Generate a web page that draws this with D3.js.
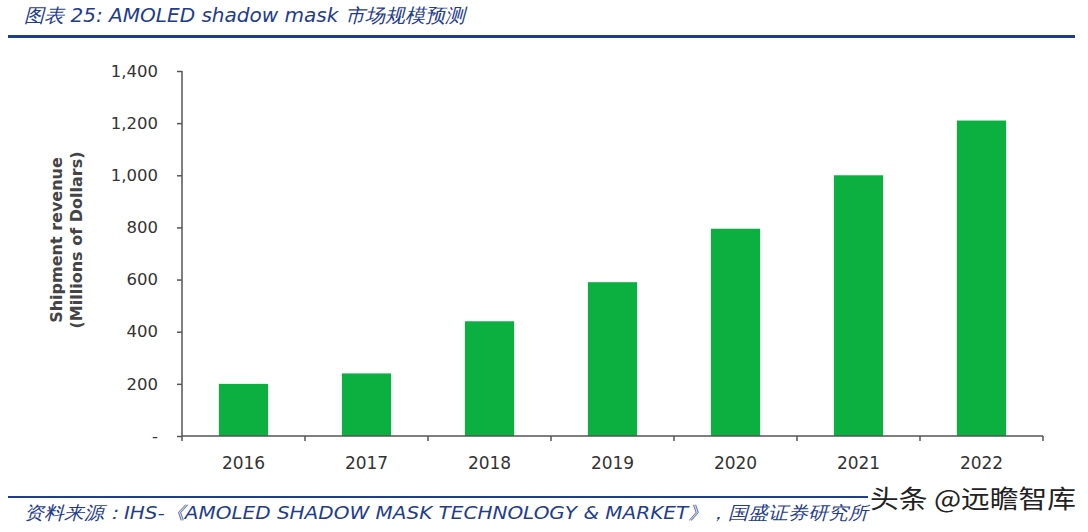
<!DOCTYPE html>
<html><head><meta charset="utf-8">
<script src="https://cdn.jsdelivr.net/npm/d3@7/dist/d3.min.js"></script>
<style>body{margin:0;background:#fff}svg{display:block}</style>
</head><body><svg id="c" width="1088" height="532"></svg>
<script>
const categories = ["2016","2017","2018","2019","2020","2021","2022"];
const revenue = [200, 240, 440, 590, 795, 1000, 1210];
const yTicks = [0, 200, 400, 600, 800, 1000, 1200, 1400];
const titleText = "图表 25:  AMOLED shadow mask 市场规模预测";
const sourceText = "资料来源：IHS-《AMOLED SHADOW MASK TECHNOLOGY & MARKET》，国盛证券研究所";
const watermark = "头条 @远瞻智库";
const yLabel = ["Shipment revenue", "(Millions of Dollars)"];

(function(){
const svg = d3.select("#c");
const mL = 182, mR = 1043, mT = 71, mB = 436;
const x = d3.scaleBand().domain(categories).range([mL, mR]).paddingInner(0.6).paddingOuter(0.3);
const xb = d3.scaleBand().domain(categories).range([mL, mR]);
const y = d3.scaleLinear().domain([0, 1400]).range([mB, mT]);
const font = "Tahoma, 'DejaVu Sans', sans-serif";

svg.append("text").attr("x", 24).attr("y", 22).attr("fill", "#1f3d8c")
  .attr("font-family", "Verdana, 'DejaVu Sans', sans-serif").attr("font-style", "italic")
  .attr("font-size", 19).attr("textLength", 441).attr("lengthAdjust", "spacingAndGlyphs").text(titleText);
svg.append("rect").attr("x", 8).attr("y", 35).attr("width", 1067).attr("height", 3).attr("fill", "#1f3d8c");

svg.selectAll("rect.bar").data(revenue).join("rect").attr("class","bar")
  .attr("x", (d,i) => x(categories[i])).attr("width", x.bandwidth())
  .attr("y", d => y(d)).attr("height", d => y(0) - y(d)).attr("fill", "#0bb040");

const ya = svg.append("g").attr("transform", `translate(${mL},0)`)
  .call(d3.axisLeft(y).tickValues(yTicks).tickSize(5).tickPadding(19)
    .tickFormat(d => d === 0 ? "-" : d3.format(",")(d)));
ya.selectAll("path,line").attr("stroke", "#555").attr("stroke-width", 1.5);
ya.select(".domain").attr("d", `M0,${mT}V${mB}`);
ya.selectAll("text").attr("font-family", font).attr("font-size", 16.5).attr("fill", "#333");

const xa = svg.append("g").attr("transform", `translate(0,${mB})`)
  .call(d3.axisBottom(xb).tickSize(0).tickPadding(21));
xa.select(".domain").attr("stroke", "#555").attr("stroke-width", 1.5).attr("d", `M${mL},0H${mR}`);
xa.selectAll("text").attr("font-family", font).attr("font-size", 17).attr("fill", "#333");
svg.append("g").selectAll("line").data(categories.concat(["end"])).join("line")
  .attr("x1", (d,i) => mL + i * xb.step()).attr("x2", (d,i) => mL + i * xb.step())
  .attr("y1", mB).attr("y2", mB + 5).attr("stroke", "#555").attr("stroke-width", 1.5);

const yl = svg.append("text").attr("transform", `translate(62,240) rotate(-90)`)
  .attr("text-anchor", "middle").attr("font-family", font).attr("font-size", 16)
  .attr("font-weight", "bold").attr("fill", "#444");
yl.append("tspan").attr("x", 0).attr("dy", 0).text(yLabel[0]);
yl.append("tspan").attr("x", 0).attr("dy", 20).text(yLabel[1]);

svg.append("rect").attr("x", 8).attr("y", 496).attr("width", 860).attr("height", 2).attr("fill", "#1f3d8c");
svg.append("text").attr("x", 24).attr("y", 519).attr("fill", "#1f3d8c")
  .attr("font-family", "Verdana, 'DejaVu Sans', sans-serif").attr("font-style", "italic")
  .attr("font-size", 18).attr("textLength", 844).attr("lengthAdjust", "spacingAndGlyphs").text(sourceText);
svg.append("text").attr("x", 1076).attr("y", 508).attr("text-anchor", "end").attr("fill", "#222")
  .attr("font-family", "'Noto Sans CJK SC', sans-serif").attr("font-size", 25)
  .attr("textLength", 206).attr("lengthAdjust", "spacingAndGlyphs").text(watermark);
})();
</script></body></html>
